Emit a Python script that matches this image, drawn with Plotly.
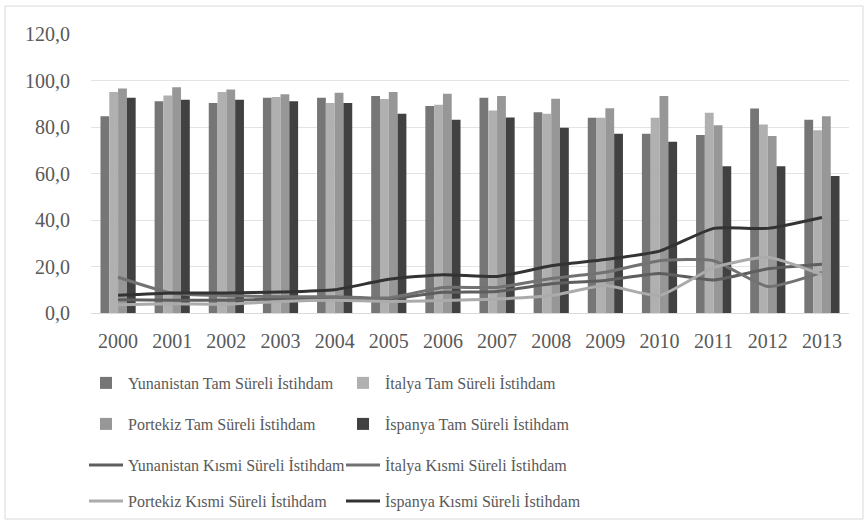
import plotly.graph_objects as go

years = [str(y) for y in range(2000, 2014)]

yunanistan_tam = [84.6, 91.1, 90.3, 92.6, 92.6, 93.3, 89.0, 92.6, 86.3, 84.0, 77.1, 76.6, 88.0, 83.1]
italya_tam = [95.0, 93.6, 95.0, 92.9, 90.3, 92.0, 89.6, 87.1, 85.7, 84.0, 84.0, 86.1, 81.1, 78.6]
portekiz_tam = [96.6, 97.1, 96.1, 94.1, 94.7, 95.1, 94.3, 93.3, 92.1, 88.1, 93.3, 80.7, 76.1, 84.6]
ispanya_tam = [92.6, 91.7, 91.7, 91.1, 90.3, 85.7, 83.1, 84.1, 79.7, 77.1, 73.7, 63.1, 63.1, 58.9]

yunanistan_kismi = [5.7, 5.5, 5.5, 6.0, 6.0, 6.0, 8.9, 9.3, 12.6, 14.0, 17.0, 14.2, 19.0, 21.0]
italya_kismi = [15.4, 8.5, 7.5, 7.0, 7.0, 6.5, 11.0, 11.0, 14.8, 17.5, 22.5, 22.5, 11.4, 17.5]
portekiz_kismi = [3.6, 4.0, 3.8, 5.0, 5.5, 5.0, 5.4, 6.0, 7.5, 11.8, 7.5, 19.5, 24.0, 16.5]
ispanya_kismi = [7.6, 8.6, 8.6, 9.0, 10.0, 14.5, 16.5, 15.7, 20.3, 23.0, 26.6, 36.4, 36.4, 41.1]

y_ticks = [0, 20, 40, 60, 80, 100, 120]
y_tick_text = ["0,0", "20,0", "40,0", "60,0", "80,0", "100,0", "120,0"]

FONT = '"Liberation Serif", "Times New Roman", Times, serif'
TXT = "#595959"

bars = [
    ("Yunanistan Tam Süreli İstihdam", yunanistan_tam, "#767676", "legend"),
    ("İtalya Tam Süreli İstihdam", italya_tam, "#b0b0b0", "legend"),
    ("Portekiz Tam Süreli İstihdam", portekiz_tam, "#979797", "legend2"),
    ("İspanya Tam Süreli İstihdam", ispanya_tam, "#414141", "legend2"),
]
lines = [
    ("Yunanistan Kısmi Süreli İstihdam", yunanistan_kismi, "#5e5e5e", "legend3"),
    ("İtalya Kısmi Süreli İstihdam", italya_kismi, "#727272", "legend3"),
    ("Portekiz Kısmi Süreli İstihdam", portekiz_kismi, "#ababab", "legend4"),
    ("İspanya Kısmi Süreli İstihdam", ispanya_kismi, "#333333", "legend4"),
]

fig = go.Figure()
for name, vals, col, lg in bars:
    fig.add_trace(go.Bar(x=years, y=vals, name=name, marker_color=col,
                         marker_line_width=0, legend=lg))
for name, vals, col, lg in lines:
    fig.add_trace(go.Scatter(x=years, y=vals, name=name, mode="lines",
                             line=dict(color=col, width=3, shape="spline", smoothing=0.5),
                             legend=lg))

def leg(ypix):
    return dict(orientation="h", x=-7 / 758.0, xanchor="left",
                y=(313 - ypix) / 279.0, yanchor="middle",
                entrywidth=208, entrywidthmode="pixels",
                itemwidth=34, bgcolor="rgba(0,0,0,0)",
                font=dict(family=FONT, size=16, color=TXT),
                traceorder="normal")

fig.update_layout(
    width=868, height=524,
    margin=dict(l=91, r=19, t=34, b=211, autoexpand=False),
    paper_bgcolor="white", plot_bgcolor="white",
    barmode="group", bargap=0.35, bargroupgap=0,
    font=dict(family=FONT, size=20, color=TXT),
    legend=leg(383),
    legend2=leg(424),
    legend3=leg(465),
    legend4=leg(501),
    showlegend=True,
    xaxis=dict(type="category", showgrid=False, showline=True, linecolor="#d9d9d9",
               linewidth=1, ticks="", ticklabelstandoff=10, automargin=False,
               tickfont=dict(family=FONT, size=20, color=TXT)),
    yaxis=dict(range=[0, 120], tickvals=y_ticks, ticktext=y_tick_text,
               showgrid=True, gridcolor="#e3e3e3", gridwidth=1, automargin=False,
               zeroline=False, showline=False, ticks="", ticklabelstandoff=20,
               tickfont=dict(family=FONT, size=20, color=TXT)),
)

fig.add_shape(type="rect", xref="paper", yref="paper",
              x0=(5 - 91) / 758.0, x1=(863 - 91) / 758.0,
              y0=(313 - 519) / 279.0, y1=(313 - 6) / 279.0,
              line=dict(color="#d9d9d9", width=1), fillcolor="rgba(0,0,0,0)",
              layer="below")

fig.write_html("out.html", config={"displayModeBar": False},
               post_script="document.body.style.margin='0';")
